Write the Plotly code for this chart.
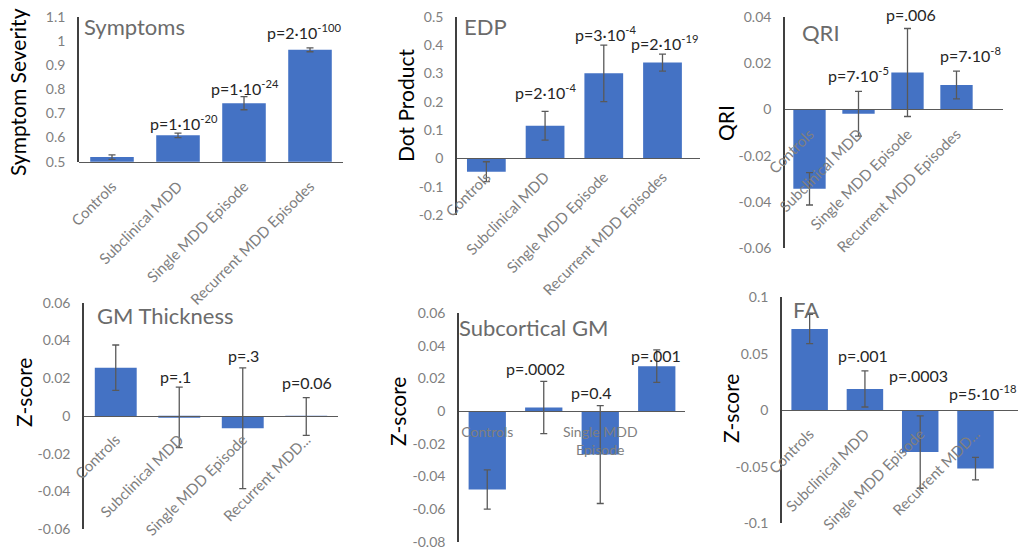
import plotly.graph_objects as go

# ---------------- data ----------------
categories = ["Controls", "Subclinical MDD", "Single MDD Episode", "Recurrent MDD Episodes"]

symptoms_mean = [0.519, 0.609, 0.742, 0.963]
symptoms_err = [0.009, 0.009, 0.027, 0.008]
edp_mean = [-0.047, 0.115, 0.300, 0.338]
edp_err = [0.035, 0.051, 0.100, 0.030]
qri_mean = [-0.0343, -0.0019, 0.0159, 0.0105]
qri_err = [0.007, 0.0097, 0.019, 0.006]
gm_mean = [0.0256, -0.0007, -0.0065, -0.0003]
gm_err = [0.012, 0.016, 0.032, 0.010]
subcort_mean = [-0.048, 0.0023, -0.0266, 0.0276]
subcort_err = [0.012, 0.016, 0.030, 0.010]
fa_mean = [0.072, 0.0189, -0.037, -0.0516]
fa_err = [0.013, 0.016, 0.032, 0.010]

symptoms_p = [None, "p=1·10<sup>-20</sup>", "p=1·10<sup>-24</sup>", "p=2·10<sup>-100</sup>"]
edp_p = [None, "p=2·10<sup>-4</sup>", "p=3·10<sup>-4</sup>", "p=2·10<sup>-19</sup>"]
qri_p = [None, "p=7·10<sup>-5</sup>", "p=.006", "p=7·10<sup>-8</sup>"]
gm_p = [None, "p=.1", "p=.3", "p=0.06"]
subcort_p = [None, "p=.0002", "p=0.4", "p=.001"]
fa_p = [None, "p=.001", "p=.0003", "p=5·10<sup>-18</sup>"]

xlabels_full = ["Controls", "Subclinical MDD", "Single MDD Episode", "Recurrent MDD Episodes"]
xlabels_short = ["Controls", "Subclinical MDD", "Single MDD Episode", "Recurrent MDD..."]
xlabels_subcort = ["Controls", " ", "Single MDD<br>Episode", " "]

symptoms_ticks = [0.5, 0.6, 0.7, 0.8, 0.9, 1.0, 1.1]
symptoms_ticktext = ["0.5", "0.6", "0.7", "0.8", "0.9", "1", "1.1"]
edp_ticks = [-0.2, -0.1, 0, 0.1, 0.2, 0.3, 0.4, 0.5]
edp_ticktext = ["-0.2", "-0.1", "0", "0.1", "0.2", "0.3", "0.4", "0.5"]
qri_ticks = [-0.06, -0.04, -0.02, 0, 0.02, 0.04]
qri_ticktext = ["-0.06", "-0.04", "-0.02", "0", "0.02", "0.04"]
gm_ticks = [-0.06, -0.04, -0.02, 0, 0.02, 0.04, 0.06]
gm_ticktext = ["-0.06", "-0.04", "-0.02", "0", "0.02", "0.04", "0.06"]
subcort_ticks = [-0.08, -0.06, -0.04, -0.02, 0, 0.02, 0.04, 0.06]
subcort_ticktext = ["-0.08", "-0.06", "-0.04", "-0.02", "0", "0.02", "0.04", "0.06"]
fa_ticks = [-0.1, -0.05, 0, 0.05, 0.1]
fa_ticktext = ["-0.1", "-0.05", "0", "0.05", "0.1"]

# ---------------- layout spec (pixels) ----------------
W, H = 1029, 550
FONT = "Lato"
BAR = "#4472C4"

panels = [
    dict(title="Symptoms", ytitle="Symptom Severity", mean=symptoms_mean, err=symptoms_err, p=symptoms_p,
         xl=xlabels_full, ang=-45, ticks=symptoms_ticks, ticktext=symptoms_ticktext,
         xpx=(79, 343), ypx=(16.7, 161.7), yr=(0.5, 1.1), base=0.5,
         tpos=(82, 27), ypos=(18, 92), pshift=[(0, 0), (6, 11), (1, 9), (-6, 16)], stand=9),
    dict(title="EDP", ytitle="Dot Product", mean=edp_mean, err=edp_err, p=edp_p,
         xl=xlabels_full, ang=-45, ticks=edp_ticks, ticktext=edp_ticktext,
         xpx=(457, 700), ypx=(16.7, 215), yr=(-0.2, 0.5), base=0,
         tpos=(462, 27), ypos=(405, 106), pshift=[(0, 0), (0, 20), (2, 12), (2, 12)], stand=3),
    dict(title="QRI", ytitle="QRI", mean=qri_mean, err=qri_err, p=qri_p,
         xl=xlabels_full, ang=-45, ticks=qri_ticks, ticktext=qri_ticktext,
         xpx=(785, 1003), ypx=(16.7, 248.3), yr=(-0.06, 0.04), base=0,
         tpos=(800, 32), ypos=(725, 123), pshift=[(0, 0), (0, 17), (3, 14), (14, 17)], stand=9),
    dict(title="GM Thickness", ytitle="Z-score", mean=gm_mean, err=gm_err, p=gm_p,
         xl=xlabels_short, ang=-45, ticks=gm_ticks, ticktext=gm_ticktext,
         xpx=(84, 338), ypx=(302.7, 529.3), yr=(-0.06, 0.06), base=0,
         tpos=(95, 315), ypos=(23, 393), pshift=[(0, 0), (-4, 11), (1, 12), (1, 15)], stand=8),
    dict(title="Subcortical GM", ytitle="Z-score", mean=subcort_mean, err=subcort_err, p=subcort_p,
         xl=xlabels_subcort, ang=0, ticks=subcort_ticks, ticktext=subcort_ticktext,
         xpx=(459, 685), ypx=(313.3, 541.7), yr=(-0.08, 0.06), base=0,
         tpos=(457, 327), ypos=(397, 412), pshift=[(0, 0), (-8, 13), (-9, 13), (-1, -6)], stand=8),
    dict(title="FA", ytitle="Z-score", mean=fa_mean, err=fa_err, p=fa_p,
         xl=xlabels_short, ang=-45, ticks=fa_ticks, ticktext=fa_ticktext,
         xpx=(782, 1018), ypx=(297.3, 523.3), yr=(-0.1, 0.1), base=0,
         tpos=(791, 309), ypos=(730, 409), pshift=[(0, 0), (-2, 15), (-2, 40), (7, 65)], stand=8),
]

fig = go.Figure()
annotations = []
layout = {}

for i, pn in enumerate(panels, start=1):
    xa = "x" if i == 1 else f"x{i}"
    ya = "y" if i == 1 else f"y{i}"
    xkey = "xaxis" if i == 1 else f"xaxis{i}"
    ykey = "yaxis" if i == 1 else f"yaxis{i}"

    fig.add_trace(go.Bar(
        x=categories, y=pn["mean"], xaxis=xa, yaxis=ya,
        marker=dict(color=BAR, line=dict(width=0)), width=0.66,
        error_y=dict(type="data", array=pn["err"], visible=True,
                     color="#595959", thickness=1.3, width=3.5),
        showlegend=False, hoverinfo="skip",
    ))

    x0, x1 = pn["xpx"]
    yt, yb = pn["ypx"]
    ymin, ymax = pn["yr"]
    dom_y = [1 - yb / H, 1 - yt / H]
    base_px = yt + (ymax - pn["base"]) / (ymax - ymin) * (yb - yt)

    layout[xkey] = dict(
        domain=[x0 / W, x1 / W], anchor="free", position=1 - base_px / H,
        type="category", categoryorder="array", categoryarray=categories,
        tickmode="array", tickvals=categories, ticktext=pn["xl"], tickangle=pn["ang"],
        tickfont=dict(family=FONT, size=15 if pn["ang"] else 14, color="#7f7f7f"),
        showline=True, linecolor="#595959", linewidth=1.3,
        showgrid=False, zeroline=False, ticks="", automargin=False,
        ticklabelstandoff=pn["stand"],
    )
    layout[ykey] = dict(
        domain=dom_y, anchor=xa, range=[ymin, ymax],
        tickmode="array", tickvals=pn["ticks"], ticktext=pn["ticktext"],
        tickfont=dict(family=FONT, size=14, color="#7f7f7f"),
        showline=True, linecolor="#404040", linewidth=1.6,
        showgrid=False, zeroline=False, ticks="", automargin=False,
        ticklabelstandoff=9,
    )

    # panel title
    annotations.append(dict(
        text=pn["title"], x=pn["tpos"][0] / W, y=1 - pn["tpos"][1] / H,
        xref="paper", yref="paper", xanchor="left", yanchor="middle", showarrow=False,
        font=dict(family=FONT, size=22, color="#6b6b6b"),
    ))
    # y-axis title
    annotations.append(dict(
        text=pn["ytitle"], x=pn["ypos"][0] / W, y=1 - pn["ypos"][1] / H,
        xref="paper", yref="paper", xanchor="center", yanchor="middle", showarrow=False,
        textangle=-90, font=dict(family=FONT, size=21, color="#000000"),
    ))
    # p-value labels
    for j, txt in enumerate(pn["p"]):
        if txt is None:
            continue
        dx, dy = pn["pshift"][j]
        annotations.append(dict(
            text=txt, x=categories[j], y=pn["mean"][j] + pn["err"][j],
            xref=xa, yref=ya, xanchor="center", yanchor="middle", showarrow=False,
            xshift=dx, yshift=dy, font=dict(family=FONT, size=16, color="#262626"),
        ))

fig.update_layout(
    width=W, height=H, margin=dict(l=0, r=0, t=0, b=0),
    paper_bgcolor="white", plot_bgcolor="rgba(0,0,0,0)",
    annotations=annotations, bargap=0.34, **layout,
)

fig.write_html("out.html", config={"displayModeBar": False},
               post_script="document.body.style.margin='0';")
